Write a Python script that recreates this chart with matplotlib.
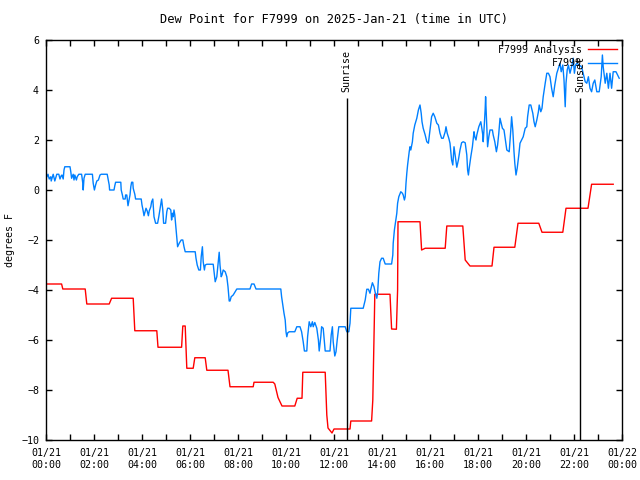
import matplotlib
matplotlib.use("Agg")
import matplotlib.pyplot as plt

plt.rcParams["font.family"] = ["DejaVu Sans Mono"]
plt.rcParams["font.size"] = 7.2

# times are minutes after 00:00 UTC on 2025-01-21
analysis_min = [0, 39, 42, 98, 102, 158, 164, 218, 222, 277, 280, 339, 342, 348, 352, 368,
                372, 398, 402, 455, 460, 518, 520, 568, 572, 580, 590, 622, 628, 640, 642,
                698, 702, 705, 715, 720, 760, 762, 814, 817, 819, 821, 822, 860, 864, 876,
                879, 880, 935, 939, 948, 998, 1002, 1042, 1048, 1060, 1115, 1120, 1172,
                1180, 1232, 1240, 1292, 1300, 1355, 1364, 1418]
analysis_val = [-3.76, -3.76, -3.96, -3.96, -4.56, -4.56, -4.33, -4.33, -5.63, -5.63, -6.29,
                -6.29, -5.44, -5.44, -7.13, -7.13, -6.71, -6.71, -7.21, -7.21, -7.87, -7.87,
                -7.69, -7.69, -7.76, -8.3, -8.64, -8.64, -8.33, -8.33, -7.29, -7.29, -9.0,
                -9.52, -9.72, -9.56, -9.56, -9.24, -9.24, -8.4, -6.73, -5.07, -4.17, -4.17,
                -5.56, -5.57, -4.0, -1.27, -1.27, -2.4, -2.33, -2.33, -1.44, -1.44, -2.8,
                -3.04, -3.04, -2.29, -2.29, -1.33, -1.33, -1.69, -1.69, -0.73, -0.73, 0.23,
                0.23]

obs_min = [2, 5, 8, 12, 13, 18, 22, 27, 32, 35, 38, 40, 43, 45, 47, 60, 62, 64, 68, 70, 72,
           76, 78, 82, 89, 92, 93, 95, 98, 116, 118, 121, 124, 127, 131, 135, 138, 153, 158,
           159, 170, 172, 174, 187, 188, 191, 193, 198, 199, 202, 205, 208, 210, 212, 214,
           217, 218, 222, 224, 238, 240, 243, 245, 248, 250, 253, 256, 258, 262, 264, 267,
           270, 274, 279, 282, 287, 289, 292, 294, 299, 302, 304, 308, 312, 314, 316, 318,
           320, 322, 325, 327, 329, 333, 338, 342, 345, 348, 373, 375, 378, 382, 386, 388,
           391, 393, 396, 398, 402, 418, 421, 423, 427, 430, 433, 435, 438, 440, 443, 448,
           452, 455, 458, 460, 463, 468, 472, 477, 510, 514, 520, 525, 587, 589, 592, 595,
           598, 600, 602, 604, 608, 622, 627, 635, 639, 643, 646, 652, 654, 658, 662, 666,
           668, 672, 677, 681, 683, 687, 689, 693, 696, 698, 710, 713, 716, 718, 722, 725,
           728, 732, 748, 752, 757, 760, 762, 793, 798, 802, 806, 810, 812, 816, 820, 823,
           827, 829, 832, 835, 839, 843, 848, 864, 867, 868, 871, 874, 877, 879, 882, 887,
           891, 893, 896, 898, 900, 902, 904, 908, 910, 912, 916, 918, 922, 927, 931, 935,
           938, 940, 943, 948, 952, 956, 960, 964, 968, 972, 977, 981, 985, 989, 993, 998,
           1000, 1003, 1007, 1010, 1014, 1017, 1020, 1022, 1027, 1031, 1035, 1039, 1043,
           1048, 1052, 1054, 1056, 1058, 1062, 1066, 1070, 1072, 1075, 1077, 1079, 1082,
           1087, 1089, 1092, 1093, 1096, 1098, 1099, 1102, 1104, 1107, 1110, 1116, 1118,
           1122, 1126, 1129, 1132, 1135, 1138, 1141, 1145, 1148, 1152, 1158, 1162, 1164,
           1167, 1170, 1172, 1175, 1178, 1182, 1185, 1189, 1193, 1198, 1202, 1204, 1208,
           1212, 1217, 1220, 1223, 1227, 1231, 1233, 1237, 1240, 1243, 1248, 1252, 1256,
           1260, 1264, 1268, 1272, 1277, 1281, 1285, 1288, 1292, 1295, 1298, 1300, 1303,
           1306, 1310, 1314, 1318, 1321, 1324, 1327, 1333, 1339, 1343, 1348, 1352, 1356,
           1360, 1364, 1368, 1372, 1377, 1383, 1388, 1391, 1393, 1398, 1402, 1406, 1410,
           1414, 1418, 1425, 1429, 1433]
obs_val = [0.53, 0.63, 0.44, 0.53, 0.36, 0.63, 0.36, 0.63, 0.63, 0.44, 0.57, 0.6, 0.44, 0.8,
           0.93, 0.93, 0.73, 0.47, 0.63, 0.4, 0.6, 0.4, 0.53, 0.63, 0.63, 0.27, 0.0, 0.47,
           0.63, 0.63, 0.27, 0.0, 0.2, 0.36, 0.4, 0.6, 0.63, 0.63, 0.2, 0.0, 0.0, 0.17, 0.31,
           0.31, 0.0, -0.2, -0.36, -0.36, -0.2, -0.2, -0.63, -0.36, -0.2, 0.13, 0.31, 0.31,
           0.07, -0.17, -0.36, -0.36, -0.6, -0.84, -1.03, -0.84, -0.73, -0.84, -1.03, -0.84,
           -0.67, -0.47, -0.36, -1.07, -1.33, -1.33, -1.07, -0.57, -0.36, -0.8, -1.33, -1.33,
           -0.87, -0.73, -0.73, -0.8, -1.2, -0.93, -1.07, -0.8, -1.0, -1.53, -1.93, -2.27,
           -2.13, -2.0, -2.0, -2.27, -2.47, -2.47, -2.73, -3.0, -3.2, -3.2, -2.67, -2.27,
           -2.87, -3.2, -3.0, -2.97, -2.97, -3.4, -3.67, -3.47, -3.0, -2.49, -3.0, -3.47,
           -3.4, -3.2, -3.27, -3.47, -3.87, -4.44, -4.44, -4.27, -4.2, -4.09, -3.96, -3.96,
           -3.76, -3.76, -3.96, -3.96, -4.27, -4.6, -4.93, -5.2, -5.67, -5.87, -5.72, -5.67,
           -5.67, -5.47, -5.47, -5.67, -6.07, -6.44, -6.44, -5.87, -5.27, -5.47, -5.27,
           -5.47, -5.3, -5.53, -6.0, -6.44, -5.87, -5.47, -5.53, -6.07, -6.44, -6.44, -5.8,
           -5.47, -6.07, -6.64, -6.47, -6.0, -5.47, -5.47, -5.67, -5.67, -5.33, -4.73, -4.73,
           -4.4, -3.97, -3.97, -4.13, -3.97, -3.71, -3.87, -4.1, -4.33, -4.13, -3.33, -2.87,
           -2.73, -2.73, -2.96, -2.96, -2.6, -2.13, -1.6, -1.27, -0.93, -0.53, -0.27, -0.07,
           -0.13, -0.2, -0.4, -0.27, 0.27, 0.67, 1.0, 1.53, 1.73, 1.6, 1.93, 2.27, 2.6, 2.87,
           3.2, 3.4, 3.07, 2.73, 2.47, 2.2, 1.93, 1.87, 2.4, 2.93, 3.07, 2.93, 2.67, 2.6,
           2.27, 2.07, 2.07, 2.33, 2.53, 2.27, 2.07, 1.87, 1.2, 1.0, 1.73, 1.5, 0.91, 1.2,
           1.6, 1.89, 1.93, 1.89, 1.4, 0.8, 0.6, 0.87, 1.33, 1.73, 2.33, 2.13, 2.0, 2.2, 2.33,
           2.53, 2.73, 2.53, 2.2, 1.93, 2.67, 3.27, 3.73, 2.53, 1.73, 2.13, 2.4, 2.4, 2.2,
           1.93, 1.53, 1.8, 2.27, 2.87, 2.67, 2.47, 2.4, 2.07, 1.6, 1.53, 2.4, 2.93, 2.4,
           1.53, 1.07, 0.6, 0.87, 1.4, 1.87, 2.0, 2.13, 2.47, 2.53, 2.93, 3.4, 3.4, 3.07,
           2.73, 2.53, 2.8, 3.13, 3.4, 3.13, 3.27, 3.73, 4.27, 4.67, 4.67, 4.53, 4.07, 3.73,
           4.2, 4.67, 4.87, 5.07, 4.73, 5.0, 4.4, 3.33, 4.27, 4.8, 5.0, 4.67, 4.93, 5.27,
           4.67, 5.0, 5.07, 5.0, 4.93, 4.67, 4.33, 4.27, 4.53, 4.07, 3.93, 4.27, 4.4, 3.93,
           3.93, 4.53, 5.4, 4.93, 4.27, 4.67, 4.07, 4.67, 4.07, 4.73, 4.73, 4.6, 4.47]

sun_min = [752, 1335]
sun_labels = ["Sunrise", "Sunset"]

tick_min = list(range(0, 1441, 120))
tick_labels = ["01/21\n00:00", "01/21\n02:00", "01/21\n04:00", "01/21\n06:00",
               "01/21\n08:00", "01/21\n10:00", "01/21\n12:00", "01/21\n14:00",
               "01/21\n16:00", "01/21\n18:00", "01/21\n20:00", "01/21\n22:00",
               "01/22\n00:00"]

fig = plt.figure(figsize=(6.4, 4.8), dpi=100)
ax = fig.add_axes([46 / 640, 40 / 480, 576 / 640, 400 / 480])

ax.plot(analysis_min, analysis_val, color="#ff0000", lw=1.0, label="F7999 Analysis")
ax.plot(obs_min, obs_val, color="#0080ff", lw=1.0, label="F7999")

for t, lab in zip(sun_min, sun_labels):
    ax.vlines(t, -10, 3.68, color="black", lw=1.0)
    ax.text(t, 3.92, lab, rotation=90, ha="center", va="bottom")

ax.set_xlim(0, 1440)
ax.set_ylim(-10, 6)
ax.set_xticks(tick_min)
ax.set_xticklabels(tick_labels)
ax.set_xticks(range(60, 1440, 120), minor=True)
ax.set_yticks(range(-10, 7, 2))
ax.tick_params(which="both", direction="in", top=True, right=True, length=4, width=1)
ax.tick_params(axis="x", pad=6)
ax.tick_params(axis="y", pad=5)
for s in ax.spines.values():
    s.set_linewidth(1.0)

ax.set_title("Dew Point for F7999 on 2025-Jan-21 (time in UTC)", pad=12)
ax.set_ylabel("degrees F")
ax.yaxis.set_label_coords(-0.053, 0.5)

ax.legend(loc="upper right", frameon=False, markerfirst=False, handlelength=2.9,
          handletextpad=0.6, labelspacing=0.35, borderaxespad=0.2, borderpad=0.3)

fig.savefig("out.png", dpi=100)
